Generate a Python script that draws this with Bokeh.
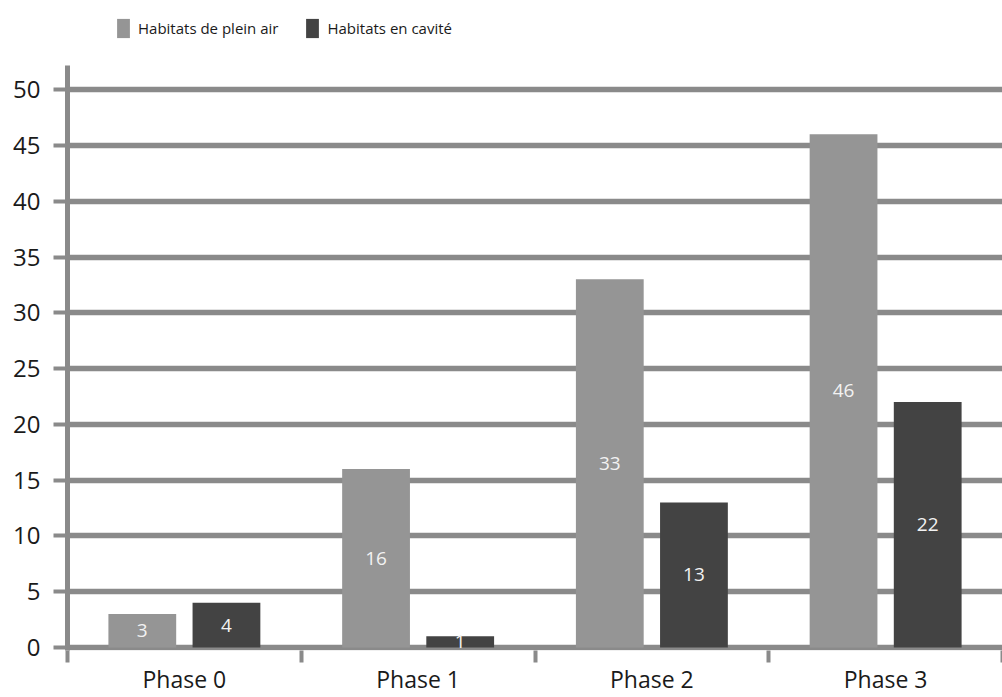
from bokeh.plotting import figure
from bokeh.models import ColumnDataSource, FixedTicker, Legend, LegendItem, Range1d
from bokeh.core.properties import value
from bokeh.embed import file_html
from bokeh.resources import INLINE

phases = ["Phase 0", "Phase 1", "Phase 2", "Phase 3"]
plein_air = [3, 16, 33, 46]
cavite = [4, 1, 13, 22]
y_ticks = [0, 5, 10, 15, 20, 25, 30, 35, 40, 45, 50]
series_names = ["Habitats de plein air", "Habitats en cavité"]

LIGHT = "#959595"
DARK = "#434343"
GRID = "#8a8a8a"
FONT = "Open Sans"

centers = [i + 0.5 for i in range(len(phases))]
src_a = ColumnDataSource(dict(x=[c - 0.18 for c in centers], top=plein_air,
                              mid=[v / 2 for v in plein_air], lab=[str(v) for v in plein_air]))
src_b = ColumnDataSource(dict(x=[c + 0.18 for c in centers], top=cavite,
                              mid=[v / 2 for v in cavite], lab=[str(v) for v in cavite]))

p = figure(width=1002, height=697, output_backend="svg", toolbar_location=None,
           x_range=Range1d(0, len(phases)), y_range=Range1d(-0.27, 57.1),
           min_border_left=67, min_border_right=0, min_border_top=10, min_border_bottom=40)
p.outline_line_color = None
p.background_fill_color = "white"

# grid
p.xgrid.grid_line_color = None
p.ygrid.grid_line_color = GRID
p.ygrid.grid_line_width = 5.5
p.ygrid.ticker = FixedTicker(ticks=y_ticks)

r1 = p.vbar(x="x", top="top", bottom=0, width=0.29, source=src_a, fill_color=LIGHT, line_color=None)
r2 = p.vbar(x="x", top="top", bottom=0, width=0.29, source=src_b, fill_color=DARK, line_color=None)

for s in (src_a, src_b):
    p.text(x="x", y="mid", text="lab", source=s, text_color="#f2f2f2",
           text_font=value(FONT), text_font_size="19px",
           text_align="center", text_baseline="middle")

# y axis
p.yaxis.ticker = FixedTicker(ticks=y_ticks)
p.yaxis.bounds = (-0.27, 52.2)
p.yaxis.axis_line_color = GRID
p.yaxis.axis_line_width = 5
p.yaxis.major_tick_line_color = GRID
p.yaxis.major_tick_line_width = 4
p.yaxis.major_tick_out = 14
p.yaxis.major_tick_in = 0
p.yaxis.minor_tick_line_color = None
p.yaxis.major_label_text_font = FONT
p.yaxis.major_label_text_font_size = "24px"
p.yaxis.major_label_text_color = "#1a1a1a"
p.yaxis.major_label_standoff = 13

# x axis
p.xaxis.ticker = FixedTicker(ticks=centers, minor_ticks=list(range(len(phases) + 1)))
p.xaxis.major_label_overrides = {c: name for c, name in zip(centers, phases)}
p.xaxis.axis_line_color = None
p.xaxis.major_tick_line_color = None
p.xaxis.major_tick_out = 0
p.xaxis.major_tick_in = 0
p.xaxis.minor_tick_line_color = GRID
p.xaxis.minor_tick_line_width = 4
p.xaxis.minor_tick_out = 12
p.xaxis.minor_tick_in = 0
p.xaxis.major_label_text_font = FONT
p.xaxis.major_label_text_font_size = "23px"
p.xaxis.major_label_text_color = "#1a1a1a"
p.xaxis.major_label_standoff = 0

legend = Legend(items=[LegendItem(label=series_names[0], renderers=[r1]),
                       LegendItem(label=series_names[1], renderers=[r2])],
                orientation="horizontal", location=(48, 610),
                glyph_width=16, glyph_height=24, label_standoff=7, spacing=26,
                padding=0, margin=0, border_line_color=None, background_fill_alpha=0,
                label_text_font=FONT, label_text_font_size="15px",
                label_text_color="#1a1a1a", label_height=24)
p.add_layout(legend, "center")

open("out.html", "w").write(file_html(p, INLINE))
